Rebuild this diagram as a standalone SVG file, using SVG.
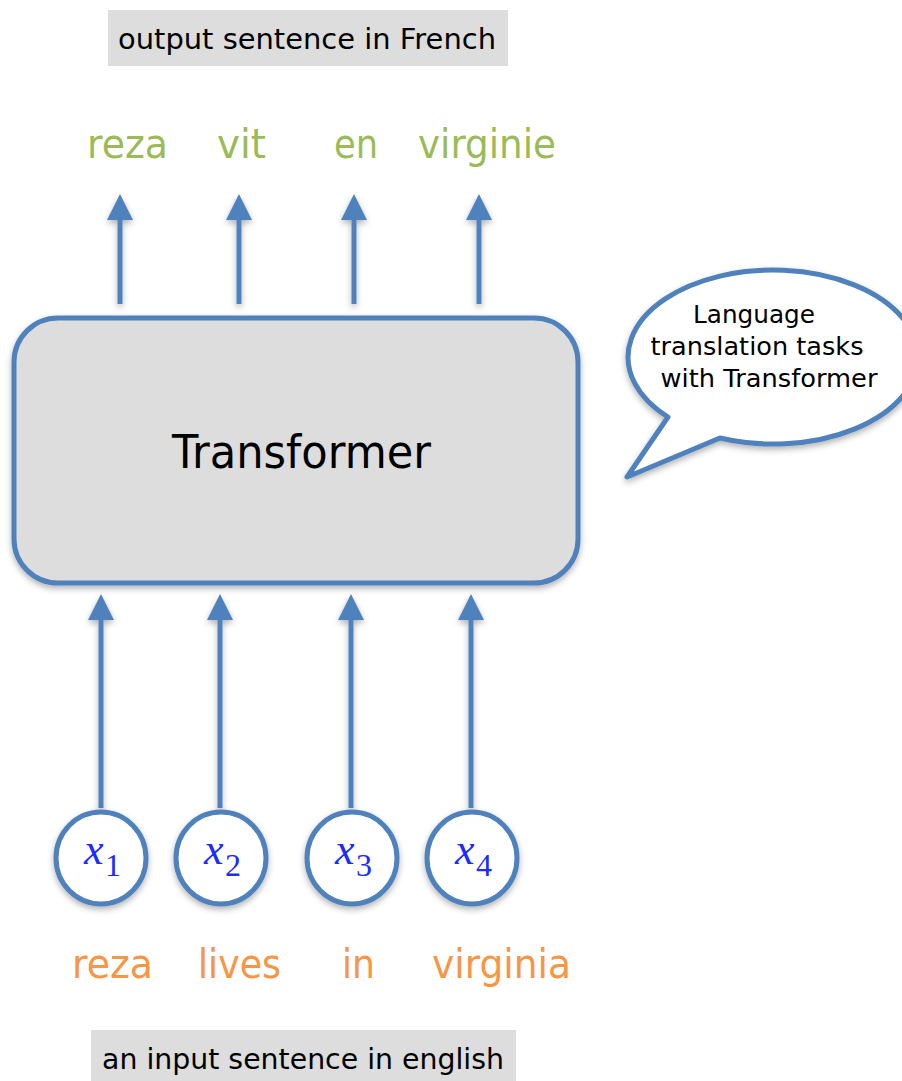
<svg xmlns="http://www.w3.org/2000/svg" width="902" height="1081" viewBox="0 0 902 1081">
<style>
.lbl{font-family:"DejaVu Sans","Liberation Sans",sans-serif;fill:#000}
.green{font-family:"DejaVu Sans","Liberation Sans",sans-serif;fill:#9BBB59;font-size:40px}
.orange{font-family:"DejaVu Sans","Liberation Sans",sans-serif;fill:#F79646;font-size:40px}
.conn{stroke:#4F81BD;stroke-width:5;fill:none}
.head{fill:#4F81BD}
.node{stroke:#4F81BD;stroke-width:5;fill:#fff}
.sym{font-family:"Liberation Serif","Times New Roman",serif;fill:#1a2cff}
</style>
<defs>
<filter id="sh" x="-10%" y="-10%" width="120%" height="130%">
<feDropShadow dx="0" dy="3" stdDeviation="3" flood-color="#000" flood-opacity="0.3"/>
</filter>
</defs>
<rect width="902" height="1081" fill="#fff"/>

<g id="title-out">
<rect x="108" y="10" width="400" height="56" fill="#dddddd"/>
<text class="lbl" x="118" y="49" font-size="28" textLength="378" lengthAdjust="spacingAndGlyphs">output sentence in French</text>
</g>

<g id="outputs">
<text class="green" x="87" y="158" textLength="81" lengthAdjust="spacingAndGlyphs">reza</text>
<text class="green" x="217" y="158" textLength="49" lengthAdjust="spacingAndGlyphs">vit</text>
<text class="green" x="334" y="158" textLength="44" lengthAdjust="spacingAndGlyphs">en</text>
<text class="green" x="418" y="158" textLength="138" lengthAdjust="spacingAndGlyphs">virginie</text>
</g>

<g id="connectors" filter="url(#sh)">
<line class="conn" x1="120" y1="304" x2="120" y2="215"/><polygon class="head" points="120,194 107,220 133,220"/>
<line class="conn" x1="239" y1="304" x2="239" y2="215"/><polygon class="head" points="239,194 226,220 252,220"/>
<line class="conn" x1="354" y1="304" x2="354" y2="215"/><polygon class="head" points="354,194 341,220 367,220"/>
<line class="conn" x1="479" y1="304" x2="479" y2="215"/><polygon class="head" points="479,194 466,220 492,220"/>

<line class="conn" x1="101" y1="808" x2="101" y2="615"/><polygon class="head" points="101,594 88,620 114,620"/>
<line class="conn" x1="220" y1="808" x2="220" y2="615"/><polygon class="head" points="220,594 207,620 233,620"/>
<line class="conn" x1="351" y1="808" x2="351" y2="615"/><polygon class="head" points="351,594 338,620 364,620"/>
<line class="conn" x1="471" y1="808" x2="471" y2="615"/><polygon class="head" points="471,594 458,620 484,620"/>
</g>

<g id="transformer">
<rect x="14" y="318" width="564" height="265" rx="44" ry="44" fill="#dddddd" stroke="#4F81BD" stroke-width="5" filter="url(#sh)"/>
<text class="lbl" x="172" y="468" font-size="46" textLength="259" lengthAdjust="spacingAndGlyphs">Transformer</text>
</g>

<g id="bubble">
<path d="M668,417 L627,477 L720,438 A145,87 0 1 0 668,417 Z" fill="#fff" stroke="#4F81BD" stroke-width="5" stroke-linejoin="round" filter="url(#sh)"/>
<text class="lbl" x="754" y="323" font-size="25" text-anchor="middle" textLength="122" lengthAdjust="spacingAndGlyphs">Language</text>
<text class="lbl" x="757" y="355" font-size="25" text-anchor="middle" textLength="213" lengthAdjust="spacingAndGlyphs">translation tasks</text>
<text class="lbl" x="769" y="387" font-size="25" text-anchor="middle" textLength="217" lengthAdjust="spacingAndGlyphs">with Transformer</text>
</g>

<g id="x1"><ellipse class="node" cx="101" cy="858" rx="45" ry="46" filter="url(#sh)"/>
<text class="sym" x="84" y="864" font-size="44" font-style="italic">x</text><text class="sym" x="105" y="876" font-size="32">1</text></g>
<g id="x2"><ellipse class="node" cx="221" cy="858" rx="45" ry="46" filter="url(#sh)"/>
<text class="sym" x="204" y="864" font-size="44" font-style="italic">x</text><text class="sym" x="225" y="876" font-size="32">2</text></g>
<g id="x3"><ellipse class="node" cx="352" cy="858" rx="45" ry="46" filter="url(#sh)"/>
<text class="sym" x="335" y="864" font-size="44" font-style="italic">x</text><text class="sym" x="356" y="876" font-size="32">3</text></g>
<g id="x4"><ellipse class="node" cx="472" cy="858" rx="45" ry="46" filter="url(#sh)"/>
<text class="sym" x="455" y="864" font-size="44" font-style="italic">x</text><text class="sym" x="476" y="876" font-size="32">4</text></g>

<g id="inputs">
<text class="orange" x="72" y="978" textLength="81" lengthAdjust="spacingAndGlyphs">reza</text>
<text class="orange" x="198" y="978" textLength="83" lengthAdjust="spacingAndGlyphs">lives</text>
<text class="orange" x="342" y="978" textLength="33" lengthAdjust="spacingAndGlyphs">in</text>
<text class="orange" x="432" y="978" textLength="139" lengthAdjust="spacingAndGlyphs">virginia</text>
</g>

<g id="title-in">
<rect x="91" y="1030" width="425" height="51" fill="#dddddd"/>
<text class="lbl" x="102" y="1069" font-size="28" textLength="402" lengthAdjust="spacingAndGlyphs">an input sentence in english</text>
</g>
</svg>
